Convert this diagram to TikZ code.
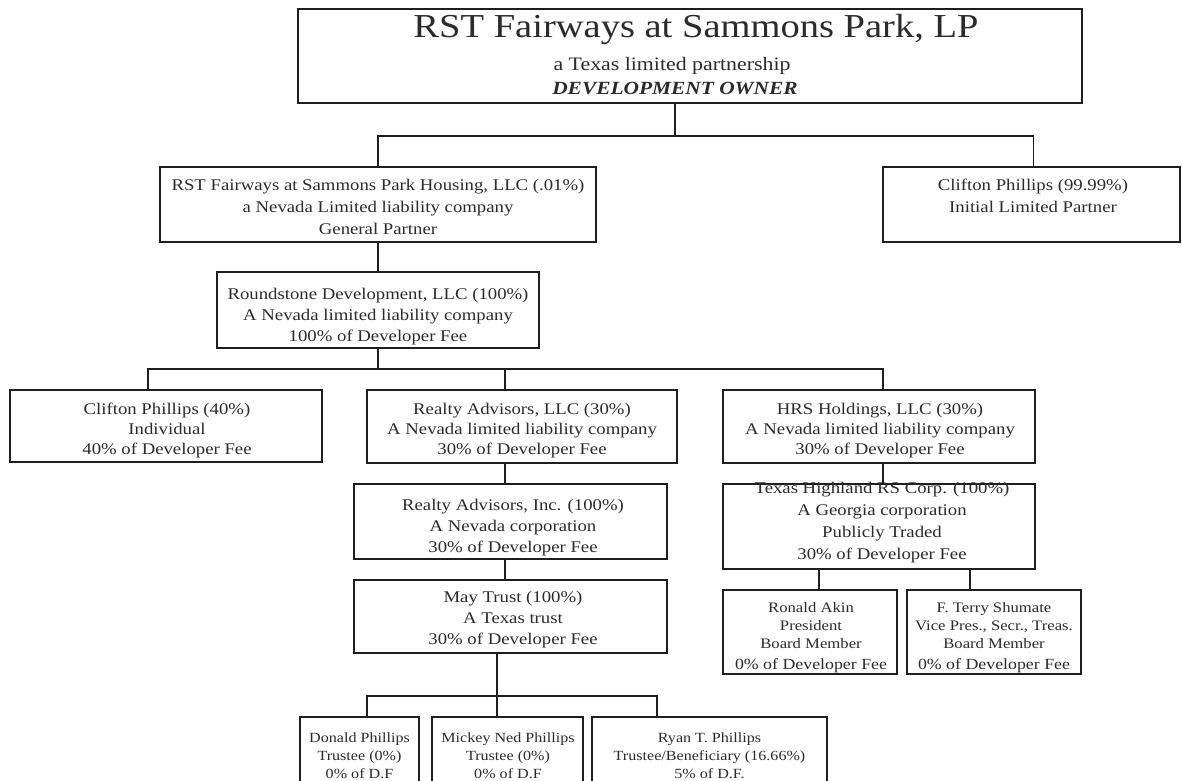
\documentclass[tikz,border=0pt]{standalone}
\usepackage{fontspec}
\setmainfont{Liberation Serif}[FakeStretch=1.15]
\definecolor{linec}{HTML}{1E1E1E}
\definecolor{textc}{HTML}{2B2B2B}
\begin{document}
\begin{tikzpicture}[x=1pt,y=-1pt,
  box/.style={draw=linec, line width=1.6pt, rectangle, inner sep=0pt},
  txt/.style={anchor=north, inner sep=0pt, align=center, text=textc},
  link/.style={draw=linec, line width=1.6pt},
  body/.style={font=\fontsize{16.3}{#1}\selectfont},
  small/.style={font=\fontsize{#1}{18}\selectfont},
]
\useasboundingbox (0,0) rectangle (1182,780);
\clip (0,0) rectangle (1182,780);

% ---------- boxes ----------
\node[box, minimum width=784pt, minimum height=94pt] (top)    at (690,56)      {};
\node[box, minimum width=436pt, minimum height=75pt] (housing) at (378,204.5)  {};
\node[box, minimum width=297pt, minimum height=75pt] (cp99)   at (1031.5,204.5) {};
\node[box, minimum width=322pt, minimum height=76pt] (round)  at (378,310)     {};
\node[box, minimum width=312pt, minimum height=72pt] (cp40)   at (166,426)     {};
\node[box, minimum width=310pt, minimum height=73pt] (rallc)  at (522,426.5)   {};
\node[box, minimum width=312pt, minimum height=73pt] (hrs)    at (879,426.5)   {};
\node[box, minimum width=313pt, minimum height=75pt] (rainc)  at (510.5,521.5) {};
\node[box, minimum width=313pt, minimum height=73pt] (may)    at (510.5,616.5) {};
\node[box, minimum width=312pt, minimum height=85pt] (thl)    at (879,526.5)   {};
\node[box, minimum width=174pt, minimum height=84pt] (ronald) at (810,632)     {};
\node[box, minimum width=174pt, minimum height=84pt] (terry)  at (994,632)     {};
\node[box, minimum width=119pt, minimum height=78pt] (donald) at (359.5,756)   {};
\node[box, minimum width=151pt, minimum height=78pt] (mickey) at (507.5,756)   {};
\node[box, minimum width=235pt, minimum height=78pt] (ryan)   at (709.5,756)   {};

% ---------- texts ----------
\node[anchor=base, inner sep=0pt, text=textc, font=\fontsize{33.5}{36}\selectfont] (toptitle) at (696,37) {RST Fairways at Sammons Park, LP};
\node[anchor=base, inner sep=0pt, text=textc, font=\fontsize{19}{22}\selectfont] (topsub) at (672,70) {a Texas limited partnership};
\node[anchor=base, inner sep=0pt, text=textc, font=\fontsize{18.6}{22}\selectfont\bfseries\itshape] (toprole) at (675,94) {DEVELOPMENT OWNER};

\node[txt, body=22] (housingt) at (378,178.8) {RST Fairways at Sammons Park Housing, LLC (.01\%)\\a Nevada Limited liability company\\General Partner};
\node[txt, body=22] (cp99t) at (1033,178.8) {Clifton Phillips (99.99\%)\\Initial Limited Partner};
\node[txt, body=21] (roundt) at (378,287.8) {Roundstone Development, LLC (100\%)\\A Nevada limited liability company\\100\% of Developer Fee};
\node[txt, body=20] (cp40t) at (167,402.8) {Clifton Phillips (40\%)\\Individual\\40\% of Developer Fee};
\node[txt, body=20] (rallct) at (522,402.8) {Realty Advisors, LLC (30\%)\\A Nevada limited liability company\\30\% of Developer Fee};
\node[txt, body=20] (hrst) at (880,402.8) {HRS Holdings, LLC (30\%)\\A Nevada limited liability company\\30\% of Developer Fee};
\node[txt, body=21] (rainct) at (513,498.8) {Realty Advisors, Inc. (100\%)\\A Nevada corporation\\30\% of Developer Fee};
\node[txt, body=21] (mayt) at (513,590.8) {May Trust (100\%)\\A Texas trust\\30\% of Developer Fee};
\node[txt, body=22] (thlt) at (882,481.7) {Texas Highland RS Corp. (100\%)\\A Georgia corporation\\Publicly Traded\\30\% of Developer Fee};
\node[txt, small=14.5] (ronaldt) at (811,602.1) {Ronald Akin\\President\\Board Member\\[3pt]{\fontsize{15.5}{18}\selectfont 0\% of Developer Fee}};
\node[txt, small=14.5] (terryt) at (994,602.1) {F. Terry Shumate\\Vice Pres., Secr., Treas.\\Board Member\\[3pt]{\fontsize{15.5}{18}\selectfont 0\% of Developer Fee}};
\node[txt, small=14] (donaldt) at (359.5,732.4) {Donald Phillips\\Trustee (0\%)\\0\% of D.F};
\node[txt, small=14] (mickeyt) at (508,732.4) {Mickey Ned Phillips\\Trustee (0\%)\\0\% of D.F};
\node[txt, small=14] (ryant) at (709.5,732.4) {Ryan T. Phillips\\Trustee/Beneficiary (16.66\%)\\5\% of D.F.};

% ---------- connectors ----------
\coordinate (tbar) at (675,136);
\draw[link] ([xshift=-15pt]top.south) -- (tbar);
\draw[link] (housing.north) |- (tbar) -| ([xshift=2pt]cp99.north);
\draw[link] (housing.south) -- (round.north);

\coordinate (mbar) at (378,369);
\draw[link] (round.south) -- (mbar);
\draw[link] ([xshift=-18pt]cp40.north) |- (mbar) -| ([xshift=4pt]hrs.north);
\draw[link] ([xshift=-17pt]rallc.north) -- ([xshift=-17pt]rallc.north |- mbar);

\draw[link] ([xshift=-17pt]rallc.south) -- ([xshift=-5.5pt]rainc.north);
\draw[link] ([xshift=-5.5pt]rainc.south) -- ([xshift=-5.5pt]may.north);
\draw[link] ([xshift=4pt]hrs.south) -- ([xshift=4pt]thl.north);
\draw[link] ([xshift=-60pt]thl.south) -- ([xshift=9pt]ronald.north);
\draw[link] ([xshift=91pt]thl.south) -- ([xshift=-24pt]terry.north);

\coordinate (bbar) at (497,696);
\draw[link] ([xshift=-13.5pt]may.south) -- ([xshift=-10.5pt]mickey.north);
\draw[link] ([xshift=7.5pt]donald.north) |- (bbar) -| ([xshift=-52.5pt]ryan.north);
\end{tikzpicture}
\end{document}
